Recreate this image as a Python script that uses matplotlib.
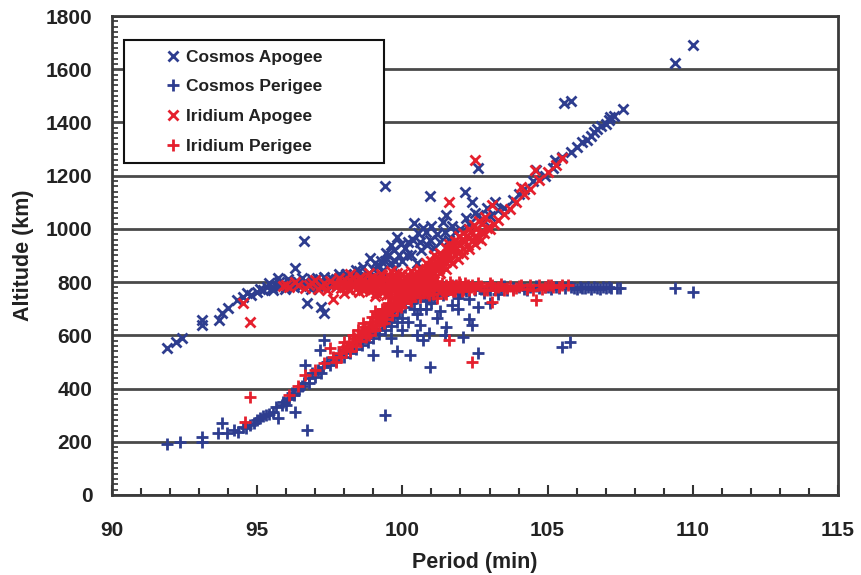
import matplotlib
matplotlib.use("Agg")
import matplotlib.pyplot as plt
from matplotlib.ticker import MultipleLocator

plt.rcParams['font.family'] = ['Liberation Sans', 'DejaVu Sans']
plt.rcParams['font.weight'] = 'bold'

# ---- Gabbard diagram data: (period [min], altitude [km]) ----
cosmos_apogee_period = [
    91.9, 92.2, 92.4, 93.1, 93.1, 93.7, 93.8, 94.0, 94.3, 94.5, 94.65, 94.8, 95.0, 95.1,
    95.2, 95.35, 95.5, 95.6, 95.7, 95.8, 95.9, 96.0, 96.1, 96.2, 96.3, 96.35, 96.5, 96.6,
    96.6, 96.7, 96.8, 96.9, 97.0, 97.1, 97.2, 97.3, 97.3, 97.4, 97.5, 97.7, 97.8, 97.9,
    98.0, 98.1, 98.3, 98.5, 98.6, 98.7, 98.8, 98.9, 99.0, 99.1, 99.2, 99.3, 99.4, 99.4,
    99.5, 99.5, 99.6, 99.6, 99.7, 99.8, 99.9, 100.0, 100.1, 100.2, 100.3, 100.3, 100.4,
    100.5, 100.6, 100.7, 100.8, 100.95, 100.95, 101.1, 101.2, 101.4, 101.5, 101.6, 101.8,
    102.0, 102.15, 102.3, 102.4, 102.6, 102.6, 102.8, 103.0, 103.3, 103.5, 103.8, 104.0,
    104.2, 104.5, 104.6, 104.9, 105.2, 105.25, 105.5, 105.56, 105.8, 105.8, 106.0, 106.2,
    106.35, 106.5, 106.6, 106.7, 106.85, 107.0, 107.1, 107.15, 107.3, 107.6, 109.4, 110.0,
    95.4, 95.55, 95.75, 95.95, 96.05, 96.25, 96.4, 96.55, 96.7, 96.85, 97.05, 97.15,
    97.35, 97.55, 97.65, 97.85, 98.05, 98.2, 98.4, 98.65, 98.75, 99.05, 99.25, 99.45,
    99.7, 99.75, 99.95, 100.15, 100.35, 100.55, 100.65, 100.85, 101.0, 101.3, 101.45,
    101.7, 102.2, 102.5, 102.9, 103.2,
]
cosmos_apogee_alt = [
    552, 575, 590, 639, 658, 658, 684, 703, 733, 745, 759, 750, 763, 775,
    770, 782, 778, 790, 815, 785, 795, 780, 800, 790, 853, 805, 785, 955,
    800, 722, 790, 810, 795, 785, 707, 684, 820, 800, 790, 810, 830, 800,
    790, 815, 825, 840, 810, 795, 830, 891, 850, 820, 860, 840, 1161, 880,
    900, 800, 870, 940, 850, 970, 900, 880, 928, 951, 900, 810, 1022,
    870, 950, 1003, 990, 958, 1124, 930, 980, 1026, 1052, 960, 990,
    1000, 1139, 1020, 1101, 1052, 1229, 1030, 1050, 1070, 1080, 1110, 1130,
    1150, 1180, 1221, 1200, 1230, 1259, 1270, 1473, 1481, 1290, 1308, 1325,
    1335, 1350, 1365, 1375, 1385, 1395, 1410, 1421, 1425, 1450, 1623, 1691,
    795, 770, 800, 775, 810, 780, 800, 815, 795, 775, 815, 800,
    790, 815, 795, 820, 830, 800, 845, 855, 820, 870, 880, 910,
    920, 880, 945, 900, 960, 985, 920, 940, 1010, 950, 990,
    1010, 1040, 1060, 1080, 1100,
]

cosmos_perigee_period = [
    91.9, 92.35, 93.1, 93.1, 93.65, 93.8, 93.95, 94.35, 94.6, 94.75, 94.9, 95.1, 95.3,
    95.55, 95.7, 95.9, 96.0, 96.1, 96.2, 96.3, 96.4, 96.55, 96.6, 96.65, 96.7, 96.8,
    96.9, 97.1, 97.16, 97.27, 97.3, 97.4, 97.6, 97.8, 97.95, 98.1, 98.3, 98.5, 98.7,
    98.9, 99.0, 99.1, 99.3, 99.4, 99.5, 99.6, 99.7, 99.8, 99.9, 100.0, 100.1, 100.2,
    100.26, 100.3, 100.5, 100.5, 100.6, 100.6, 100.7, 100.7, 100.8, 100.8, 100.9,
    100.95, 101.0, 101.0, 101.1, 101.2, 101.3, 101.3, 101.4, 101.47, 101.5, 101.6,
    101.7, 101.8, 101.9, 102.0, 102.1, 102.2, 102.3, 102.4, 102.5, 102.6, 102.6,
    102.8, 102.9, 103.2, 103.3, 103.4, 103.6, 103.8, 104.0, 104.2, 104.4, 104.7,
    104.9, 105.1, 105.3, 105.5, 105.6, 105.77, 105.8, 106.0, 106.2, 106.4, 106.5,
    106.7, 106.9, 107.0, 107.2, 107.5, 109.4, 110.0,
    96.8, 97.0, 97.2, 97.5, 97.7, 98.0, 98.2, 98.4, 98.6, 98.8, 99.0, 99.2, 99.4,
    99.6, 99.8, 100.0, 100.4, 100.9, 101.2, 101.5, 101.9, 102.2, 102.7, 103.0, 103.5,
    104.3, 104.6, 105.0, 105.4, 105.9, 106.1, 106.3, 106.6, 106.8, 107.1, 107.4,
    101.9, 102.3, 103.0, 100.5, 94.2, 94.5, 95.0, 95.2, 95.4, 95.65, 95.85, 96.05,
    96.25, 96.45,
]
cosmos_perigee_alt = [
    192, 199, 218, 198, 233, 270, 233, 237, 250, 263, 270, 289, 300,
    312, 289, 350, 340, 365, 383, 312, 395, 410, 421, 489, 244, 440,
    458, 470, 545, 481, 583, 500, 515, 530, 545, 555, 570, 585, 600,
    610, 526, 625, 640, 301, 655, 590, 670, 540, 690, 620, 705, 650,
    526, 720, 740, 680, 700, 640, 583, 755, 730, 700, 610,
    481, 770, 720, 745, 665, 780, 690, 750, 601, 631, 775,
    715, 785, 740, 760, 594, 780, 735, 639, 770, 534, 707,
    759, 780, 775, 755, 780, 770, 778, 782, 775, 780, 778,
    782, 775, 780, 557, 778, 575, 782, 775, 778, 780, 775,
    778, 780, 776, 778, 778, 778, 763,
    420, 445, 460, 490, 505, 520, 535, 550, 565, 575, 590, 605, 620,
    635, 650, 665, 700, 735, 760, 770, 770, 765, 775, 770, 785,
    770, 785, 780, 776, 779, 781, 777, 781, 775, 781, 776,
    700, 660, 720, 600, 245, 255, 280, 295, 305, 330, 340, 360,
    375, 400,
]

iridium_apogee_period = [
    94.5, 94.75, 95.9, 96.1, 96.4, 96.65, 96.9, 97.0, 97.2, 97.4, 97.5, 97.6, 97.7,
    97.9, 98.0, 98.1, 98.2, 98.3, 98.35, 98.5, 98.6, 98.7, 98.75, 98.9, 99.0, 99.0,
    99.05, 99.1, 99.15, 99.2, 99.3, 99.4, 99.45, 99.5, 99.5, 99.6, 99.65, 99.7, 99.8,
    99.85, 99.9, 100.0, 100.0, 100.1, 100.15, 100.2, 100.25, 100.3, 100.35, 100.4,
    100.5, 100.55, 100.6, 100.7, 100.75, 100.8, 100.9, 100.95, 101.0, 101.05, 101.1,
    101.2, 101.25, 101.3, 101.4, 101.45, 101.5, 101.6, 101.65, 101.7, 101.8, 101.85,
    101.9, 102.0, 102.1, 102.15, 102.25, 102.3, 102.4, 102.5, 102.6, 102.7, 102.8,
    102.9, 103.0, 103.1, 103.15, 103.3, 103.5, 103.7, 103.9, 104.1, 104.2, 104.4,
    104.55, 104.7, 105.0, 105.3, 105.5, 101.6, 102.5,
    97.8, 98.0, 98.1, 98.2, 98.4, 98.45, 98.55, 98.65, 98.8, 98.85, 98.95, 99.05,
    99.1, 99.2, 99.25, 99.35, 99.4, 99.5, 99.55, 99.6, 99.7, 99.75, 99.8, 99.9,
    99.95, 100.05, 100.1, 100.2, 100.25, 100.3, 100.4, 100.45, 100.5, 100.55, 100.6,
    100.65, 100.7, 100.8, 100.85, 100.9,
    100.6, 100.8, 101.0, 101.1, 101.3, 101.5, 101.6, 101.8, 101.95, 102.1, 102.3,
    102.45, 102.65, 102.85, 100.9, 101.1, 101.3, 101.5, 101.7, 101.9, 102.1, 102.3,
    102.5, 102.7,
    98.3, 98.5, 98.7, 98.9, 99.0, 99.2, 99.3, 99.4, 99.6, 99.7, 99.8, 99.9, 100.0,
    100.1, 100.2, 100.3, 100.4, 100.5, 100.6, 100.7, 100.8, 100.95, 101.05, 101.15,
    101.25, 101.4, 101.55, 101.65, 101.75, 101.9, 102.05, 102.2, 102.35, 102.55,
    102.75, 100.75, 100.95, 101.15, 101.35, 101.55, 98.6, 98.2, 97.9, 97.7, 97.3,
    97.1, 96.8, 96.3, 96.0,
]
iridium_apogee_alt = [
    722, 650, 785, 782, 790, 778, 795, 808, 780, 770, 806, 737, 792,
    776, 782, 800, 770, 816, 788, 762, 805, 792, 782, 766, 796, 820,
    746, 776, 792, 812, 762, 792, 750, 772, 826, 802, 786, 782, 760,
    742, 796, 776, 832, 812, 792, 786, 748, 766, 806, 796,
    780, 800, 825, 815, 840, 805, 850, 828, 845, 865, 835,
    870, 850, 885, 860, 895, 875, 905, 885, 920, 900, 930,
    910, 940, 925, 955, 940, 965, 955, 975, 965, 990, 985,
    1005, 1000, 1090, 1020, 1035, 1055, 1075, 1100, 1157, 1130, 1150,
    1221, 1185, 1215, 1240, 1266, 1101, 1259,
    815, 760, 790, 830, 775, 800, 820, 770, 800, 835, 785, 810,
    760, 790, 830, 775, 815, 795, 755, 840, 800, 820, 780, 815,
    760, 800, 770, 825, 805, 840, 780, 815, 760, 835, 795,
    770, 800, 830, 785, 810,
    850, 870, 880, 900, 910, 930, 945, 955, 975, 985, 1000,
    1015, 1030, 1045, 795, 815, 835, 850, 870, 885, 905, 925,
    945, 960,
    795, 810, 775, 815, 775, 800, 825, 770, 780, 815, 835, 770, 805,
    790, 810, 790, 830, 805, 780, 825, 850, 860, 835, 880,
    865, 890, 905, 925, 935, 950, 960, 975, 990, 1000,
    1020, 790, 815, 850, 880, 895, 785, 805, 795, 780, 795,
    775, 790, 800, 790,
]

iridium_perigee_period = [
    94.58, 94.75, 96.1, 96.4, 96.65, 97.0, 97.3, 97.5, 97.6, 97.8, 97.95, 98.05, 98.15,
    98.25, 98.35, 98.4, 98.47, 98.5, 98.6, 98.7, 98.75, 98.8, 98.9, 99.0, 99.05, 99.1,
    99.15, 99.25, 99.3, 99.35, 99.4, 99.45, 99.55, 99.6, 99.65, 99.7, 99.75, 99.85,
    99.9, 99.95, 100.0, 100.05, 100.15, 100.2, 100.25, 100.3, 100.4, 100.5, 100.6,
    100.7, 100.8, 100.9, 100.9, 101.0, 101.1, 101.2, 101.2, 101.3, 101.4, 101.5, 101.5,
    101.6, 101.6, 101.7, 101.8, 101.9, 102.0, 102.1, 102.2, 102.3, 102.4, 102.4, 102.5,
    102.7, 102.9, 103.1, 103.1, 103.3, 103.5, 103.7, 103.9, 104.1, 104.3, 104.6, 104.7,
    104.9, 105.1, 105.4, 105.7,
    97.7, 97.9, 98.0, 98.2, 98.3, 98.55, 98.65, 98.85, 98.95, 99.05, 99.2, 99.3, 99.45,
    99.5, 99.65, 99.7, 99.8, 99.95, 100.05, 100.1, 100.2, 100.35, 100.4, 100.55, 100.6,
    100.75, 100.85, 100.95, 101.05, 101.15, 101.35, 101.45, 101.65, 101.75, 101.95,
    102.05, 102.15, 102.35, 102.6, 102.8, 103.0, 103.2, 103.4, 103.6, 103.8, 104.0,
    104.4, 104.5, 104.8, 105.0, 105.2, 105.5,
    98.1, 98.45, 98.7, 98.95, 99.15, 99.35, 99.55, 99.75, 99.85, 100.0, 100.15, 100.3,
    100.45, 100.65, 100.7, 100.8, 100.95, 101.05, 101.25, 101.35, 101.55, 101.7,
    101.85, 102.0, 102.25, 102.45, 99.1, 99.4, 99.6, 99.9, 100.1, 100.3,
]
iridium_perigee_alt = [
    274, 368, 376, 410, 451, 470, 495, 553, 520, 535, 556, 545, 575,
    565, 590, 560, 620, 600, 615, 630, 595, 620, 650, 640, 620, 665,
    655, 680, 670, 645, 700, 685, 710, 700, 675, 725, 715, 740,
    730, 705, 755, 745, 765, 755, 735, 775, 770, 760, 780,
    770, 790, 775, 750, 785, 770, 792, 740, 778, 768, 788, 755,
    583, 775, 790, 768, 782, 792, 772, 785, 770, 500, 790, 778,
    785, 772, 725, 788, 780, 770, 785, 778, 790, 775, 733, 788,
    780, 790, 782, 788,
    500, 520, 575, 540, 600, 580, 645, 600, 670, 690, 640, 700, 660,
    720, 695, 745, 700, 770, 720, 785, 740, 795, 750, 800, 745,
    800, 760, 800, 755, 805, 795, 760, 800, 765, 800,
    765, 795, 780, 795, 770, 795, 770, 792, 778, 772, 785,
    790, 770, 775, 790, 780, 790,
    560, 585, 610, 630, 680, 690, 690, 735, 710, 740, 745, 760,
    785, 790, 760, 775, 785, 790, 780, 770, 780, 775,
    790, 780, 790, 775, 640, 675, 715, 715, 760, 730,
]

series = [
    ("Cosmos Apogee", cosmos_apogee_period, cosmos_apogee_alt, "x", "#2E3D8F"),
    ("Cosmos Perigee", cosmos_perigee_period, cosmos_perigee_alt, "+", "#2E3D8F"),
    ("Iridium Apogee", iridium_apogee_period, iridium_apogee_alt, "x", "#E5202E"),
    ("Iridium Perigee", iridium_perigee_period, iridium_perigee_alt, "+", "#E5202E"),
]

fig = plt.figure(figsize=(8.61, 5.75), dpi=100)
ax = fig.add_axes([112 / 861, 1 - 495 / 575, 726 / 861, 479 / 575])

for label, px, alt, mk, col in series:
    ax.plot(px, alt, linestyle="none", marker=mk, color=col,
            markersize=8 if mk == "+" else 6.8, markeredgewidth=2.0,
            label=label, zorder=3)

ax.set_xlim(90, 115)
ax.set_ylim(0, 1800)
ax.xaxis.set_major_locator(MultipleLocator(5))
ax.xaxis.set_minor_locator(MultipleLocator(1))
ax.yaxis.set_major_locator(MultipleLocator(200))
ax.yaxis.set_minor_locator(MultipleLocator(20))

ax.tick_params(axis="x", which="major", direction="in", length=7, width=1.5,
               pad=19, labelsize=15, color="#333333")
ax.tick_params(axis="x", which="minor", direction="in", length=5, width=1.5,
               color="#333333")
ax.tick_params(axis="y", which="major", direction="in", length=0,
               pad=14, labelsize=15)
ax.tick_params(axis="y", which="minor", direction="in", length=4, width=1.2,
               color="#333333")
for lab in ax.get_xticklabels() + ax.get_yticklabels():
    lab.set_fontweight("bold")
    lab.set_color("#222222")

ax.grid(axis="y", which="major", color="#4a4a4a", linewidth=2.0, zorder=1)
ax.set_axisbelow(True)
for sp in ax.spines.values():
    sp.set_color("#3a3a3a")
    sp.set_linewidth(2.0)

ax.set_xlabel("Period (min)", fontsize=15.5, fontweight="bold", color="#222222")
ax.set_ylabel("Altitude (km)", fontsize=15.5, fontweight="bold", color="#222222")
ax.xaxis.set_label_coords(0.5, -0.118)
ax.yaxis.set_label_coords(-0.108, 0.5)

x0 = (124 - 112) / 726
y1 = (495 - 40) / 479
y0 = (495 - 161) / 479
w = (384 - 124) / 726
leg = ax.legend(loc="upper left", bbox_to_anchor=(x0, y0, w, y1 - y0),
                mode="expand", borderaxespad=0, numpoints=1,
                handlelength=4.6, handletextpad=-1.6, borderpad=0.55,
                labelspacing=0.84, fancybox=False, framealpha=1,
                edgecolor="#111111", prop={"weight": "bold", "size": 12.5})
leg.get_frame().set_linewidth(1.5)
leg.set_zorder(5)
for t in leg.get_texts():
    t.set_color("#222222")

fig.savefig("out.png", dpi=100)
